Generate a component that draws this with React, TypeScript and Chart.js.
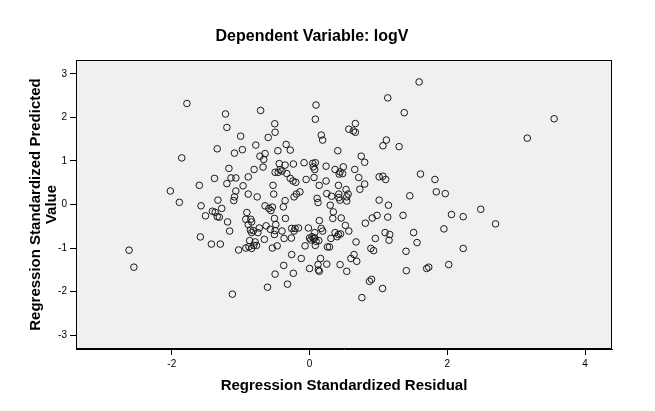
import { useEffect, useRef } from 'react';
import { Chart, registerables } from 'chart.js';

Chart.register(...registerables);

const chartTitle = 'Dependent Variable: logV';
const xAxisTitle = 'Regression Standardized Residual';
const yAxisTitle = ['Regression Standardized Predicted', 'Value'];

const xTicks = [-2, 0, 2, 4];
const yTicks = [-3, -2, -1, 0, 1, 2, 3];
const xRange = [-3.39, 4.39];
const yRange = [-3.32, 3.32];

// Regression standardized residual (x) of each case
const residual = [
  -1.78, -1.855, -2.02, -1.89, -2.62, -2.55,
  -1.22, -0.71, -1.2, -0.505, -0.5, -1.0, -0.6, -0.34, -1.34, -0.975, -1.09, -0.78, -0.46, -0.646,
  -0.72, -0.665, -0.44, -0.675, -0.805, -1.17, -0.43, -0.4, -0.455, -0.5, -1.38, -1.14, -1.07, -0.89,
  -1.2, -1.6, -0.965, -0.53, -1.07, -0.89, -0.76, -0.52, -1.09, -1.33, -0.355,
  -1.1, -1.575, -1.275, -1.41, -1.37, -1.51, -1.34, -1.31, -1.19, -1.16, -1.585, -1.425, -1.295,
  -1.12, -1.03, -0.91, -0.925, -0.853, -0.84, -0.89, -0.86, -0.815, -0.84, -0.73, -0.75, -0.87,
  -0.79, -0.77, -0.81, -0.88, -0.925, -0.84, -0.646, -0.59, -0.54, -0.56, -0.63, -0.51, -0.49,
  -0.57, -0.5, -0.51, -0.4, -0.656, -0.47, -0.54, -0.375, -0.5, -0.61, -0.32,
  0.094, 0.084, 0.665, 0.57, 0.636, 0.665, 0.17, 0.19, -0.28, 0.41, 0.75, 0.8, -0.355, -0.235,
  -0.08, 0.046, 0.084, 0.055, 0.075, 0.24, 0.37, 0.443, 0.49, 0.48, 0.43, 0.656, 0.714, -0.33,
  -0.28, -0.24, -0.2, -0.05, 0.065, 0.24, 0.14, 0.42, 0.8, 0.73, 0.53, -0.14, -0.19, -0.225,
  0.25, 0.32, 0.425, 0.425, 0.54, 0.56, 0.11,
  -0.38, 0.123, 0.3, 0.44, 0.54, -0.35, -0.37, -0.26, -0.21, -0.16, -0.225, -0.264, -0.017, 0.142,
  0.17, 0.19, 0.075, 0.0, 0.036, 0.055, 0.017, 0.075, 0.094, 0.134, 0.084, -0.065, 0.345, 0.337,
  0.46, 0.52, 0.57, 0.37, 0.42, 0.4, 0.45, 0.31, 0.26, 0.29, -0.26, -0.12, -0.235, 0.0, 0.16,
  0.123, 0.142, 0.128, 0.25, 0.443, 0.54, 0.646, 0.6, 0.685, 0.675, 0.76, 0.81, 0.91, 0.98, 1.01,
  0.955, 0.89, 0.93, 0.87, 0.9,
  1.59, 1.135, 1.375, 1.115, 1.065, 1.3, 1.01, 1.065, 1.105, 1.61, 1.82, 1.84, 1.97, 1.455,
  1.145, 1.135, 1.357, 2.06, 2.23, 1.95, 1.096, 1.164, 1.154, 1.51, 1.56, 1.4, 2.23, 1.405, 1.7,
  1.73, 2.02, 1.06,
  3.55, 3.16, 2.485, 2.7,
];

// Regression standardized predicted value (y) of each case
const predicted = [
  2.32, 1.07, 0.31, 0.05, -1.05, -1.44,
  2.08, 2.16, 1.77, 1.855, 1.66, 1.57, 1.54, 1.38, 1.28, 1.26, 1.18, 1.365, 1.235, 1.17,
  1.11, 1.035, 0.94, 0.86, 0.805, 0.83, 0.8, 0.77, 0.74, 0.74, 0.6, 0.61, 0.61, 0.635,
  0.48, 0.44, 0.43, 0.44, 0.31, 0.24, 0.175, 0.24, 0.175, 0.1, 0.09,
  0.09, -0.03, -0.09, -0.155, -0.18, -0.26, -0.28, -0.29, -0.4, -0.61, -0.745, -0.91, -0.91,
  -2.06, -1.045, -0.185, -0.34, -0.34, -0.4, -0.46, -0.585, -0.6, -0.645, -0.54, -0.645, -0.83,
  -0.86, -0.94, -0.94, -0.97, -1.0, -1.01, -0.03, -0.09, -0.06, -0.14, -0.49, -0.32, -0.46,
  -0.57, -0.6, -0.69, -0.61, -0.8, -0.95, -1.0, -1.4, -1.6, -1.9, -1.83,
  2.285, 1.96, 1.86, 1.73, 1.69, 1.66, 1.595, 1.48, 1.25, 1.235, 1.11, 0.97, 0.905, 0.93,
  0.96, 0.945, 0.96, 0.865, 0.805, 0.88, 0.805, 0.75, 0.865, 0.71, 0.7, 0.805, 0.62, 0.71,
  0.6, 0.54, 0.51, 0.575, 0.62, 0.54, 0.44, 0.44, 0.47, 0.35, 0.345, 0.29, 0.24, 0.175,
  0.25, 0.19, 0.24, 0.16, 0.175, 0.24, 0.14,
  -0.055, 0.046, -0.016, 0.1, 0.08, -0.32, -0.78, -0.55, -0.55, -0.54, -0.61, -0.77, -0.54, -0.37,
  -0.55, -0.61, -0.645, -0.77, -0.74, -0.78, -0.815, -0.77, -0.845, -0.83, -0.94, -0.95, -0.17, -0.32,
  -0.31, -0.48, -0.61, -0.645, -0.69, -0.74, -0.675, -0.78, -0.975, -0.975, -1.15, -1.24, -1.58, -1.47, -1.24,
  -1.38, -1.535, -1.505, -1.37, -1.38, -1.535, -1.15, -1.24, -1.305, -0.86, -2.14, -0.43, -0.31, -0.25, 0.1,
  -0.78, -1.01, -1.06, -1.765, -1.72,
  2.815, 2.45, 2.11, 1.48, 1.35, 1.33, 0.635, 0.65, 0.575, 0.7, 0.575, 0.29, 0.25, 0.2,
  -0.016, -0.29, -0.25, -0.23, -0.28, -0.56, -0.645, -0.69, -0.82, -0.645, -0.875, -1.075, -1.01, -1.52, -1.47,
  -1.44, -1.38, -1.93,
  1.97, 1.525, -0.11, -0.445,
];

const FONT = '"Liberation Sans", Arial, sans-serif';

const spssFrame = {
  id: 'spssFrame',
  beforeDraw(chart: any) {
    const { ctx, chartArea: a } = chart;
    ctx.save();
    ctx.fillStyle = '#f0f0f0';
    ctx.fillRect(a.left, a.top, a.right - a.left, a.bottom - a.top);
    ctx.restore();
  },
  afterDraw(chart: any) {
    const { ctx, chartArea: a } = chart;
    ctx.save();
    ctx.strokeStyle = '#000';
    ctx.lineWidth = 1;
    ctx.strokeRect(Math.round(a.left) + 0.5, Math.round(a.top) + 0.5,
      Math.round(a.right - a.left) - 1, Math.round(a.bottom - a.top) - 1);

    ctx.fillStyle = '#000';
    ctx.textAlign = 'center';
    ctx.textBaseline = 'middle';
    ctx.font = `bold 16px ${FONT}`;
    ctx.fillText(chartTitle, 312, 37);

    ctx.font = `bold 15px ${FONT}`;
    ctx.fillText(xAxisTitle, (a.left + a.right) / 2, 386);

    const cy = (a.top + a.bottom) / 2;
    ctx.translate(36, cy);
    ctx.rotate(-Math.PI / 2);
    ctx.fillText(yAxisTitle[0], 0, 0);
    ctx.fillText(yAxisTitle[1], 0, 16);
    ctx.restore();
  },
};

export default function App() {
  const ref = useRef<HTMLCanvasElement | null>(null);

  useEffect(() => {
    document.body.style.margin = '0';
    const canvas = ref.current;
    if (!canvas) return;
    const points = residual.map((x, i) => ({ x, y: predicted[i] }));
    const chart = new Chart(canvas, {
      type: 'scatter',
      data: {
        datasets: [
          {
            data: points,
            pointStyle: 'circle',
            pointRadius: 3.3,
            pointBorderWidth: 1,
            pointBorderColor: '#1a1a1a',
            pointBackgroundColor: 'rgba(0,0,0,0)',
          },
        ],
      },
      options: {
        responsive: false,
        animation: false,
        events: [],
        layout: { padding: { top: 60, right: 43, left: 0, bottom: 0 } },
        plugins: {
          legend: { display: false },
          title: { display: false },
          tooltip: { enabled: false },
        },
        scales: {
          x: {
            type: 'linear',
            min: xRange[0],
            max: xRange[1],
            afterBuildTicks: (s: any) => {
              s.ticks = xTicks.map((v) => ({ value: v }));
            },
            afterFit: (s: any) => {
              s.height = 62;
            },
            grid: {
              display: true,
              drawOnChartArea: false,
              drawTicks: true,
              tickLength: 6,
              color: '#000',
              lineWidth: 1,
            },
            border: { display: true, color: '#000', width: 1 },
            ticks: {
              color: '#000',
              padding: 3,
              maxRotation: 0,
              font: { family: FONT, size: 10 },
            },
          },
          y: {
            type: 'linear',
            min: yRange[0],
            max: yRange[1],
            afterBuildTicks: (s: any) => {
              s.ticks = yTicks.map((v) => ({ value: v }));
            },
            afterFit: (s: any) => {
              s.width = 76;
            },
            grid: {
              display: true,
              drawOnChartArea: false,
              drawTicks: true,
              tickLength: 6,
              color: '#000',
              lineWidth: 1,
            },
            border: { display: true, color: '#000', width: 1 },
            ticks: {
              color: '#000',
              padding: 3,
              font: { family: FONT, size: 10 },
            },
          },
        },
      },
      plugins: [spssFrame],
    });
    return () => chart.destroy();
  }, []);

  return (
    <div style={{ position: 'fixed', left: 0, top: 0, width: 655, height: 411, background: '#fff' }}>
      <canvas ref={ref} width={655} height={411} style={{ display: 'block', width: 655, height: 411 }} />
    </div>
  );
}
